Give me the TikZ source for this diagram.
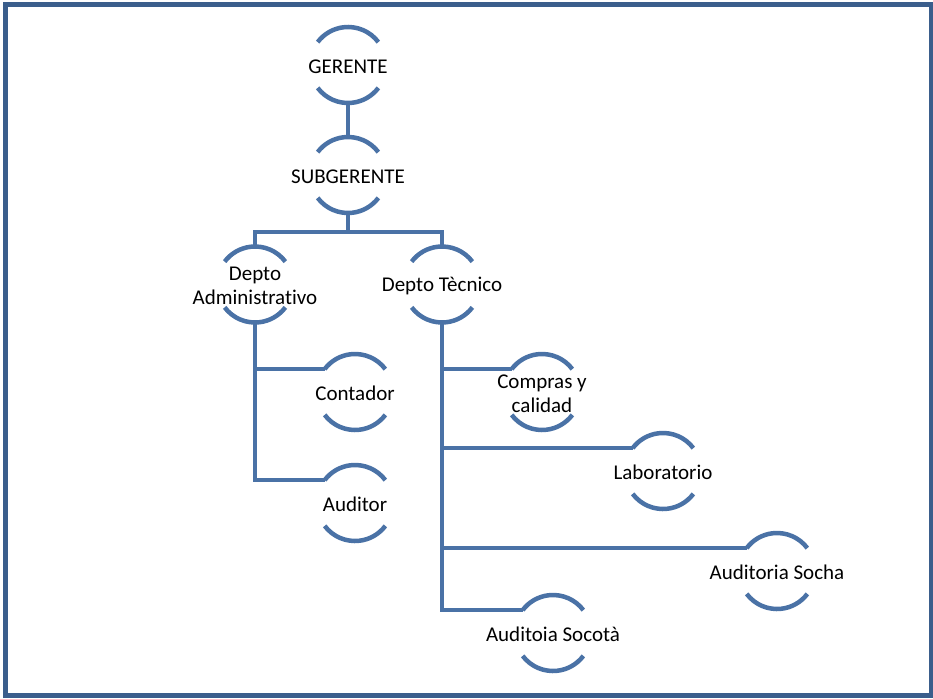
\documentclass[tikz,border=0pt]{standalone}
\usepackage{fontspec}
\setmainfont[Ligatures=NoCommon]{Carlito}
\definecolor{arcblue}{HTML}{4A72A6}
\definecolor{frameblue}{HTML}{3B5E8C}

% One organisational unit: a label between two arcs of a circle,
% with named points for attaching connectors.
\newcommand\orgunit[4]{%
  \coordinate (#1c) at (#2,-#3);
  \node[unit] (#1) at (#1c) {#4};
  \draw[arcline] ([shift={(37:38)}]#1c) arc[start angle=37,end angle=143,radius=38];
  \draw[arcline] ([shift={(-143:38)}]#1c) arc[start angle=-143,end angle=-37,radius=38];
  \coordinate (#1-t) at ([shift={(90:38)}]#1c);
  \coordinate (#1-b) at ([shift={(-90:38)}]#1c);
  \coordinate (#1-l) at ([shift={(143:38)}]#1c);
}

\begin{document}
\begin{tikzpicture}[x=1pt,y=1pt,
  unit/.style={font=\fontsize{21}{24}\selectfont, align=center, inner sep=0pt, yshift=-1.5pt},
  arcline/.style={draw=arcblue, line width=4.5pt},
  link/.style={draw=arcblue, line width=4.5pt},
  frame/.style={draw=frameblue, line width=5pt}]
\useasboundingbox (0,0) rectangle (933,-698);
\draw[frame] (5.3,-4.2) rectangle (931,-695.5);

\orgunit{ger}{348}{65}{GERENTE}
\orgunit{sub}{348}{175}{SUBGERENTE}
\orgunit{adm}{255}{284.5}{Depto\\Administrativo}
\orgunit{tec}{442}{284.5}{Depto Tècnico}
\orgunit{con}{355}{392}{Contador}
\orgunit{aud}{355}{503}{Auditor}
\orgunit{com}{542}{392}{Compras y\\calidad}
\orgunit{lab}{663}{471}{Laboratorio}
\orgunit{soc}{777}{571}{Auditoria Socha}
\orgunit{sco}{553}{633}{Auditoia Socotà}

\coordinate (split) at (348,-232);

\draw[link] (ger-b) -- (sub-t);
\draw[link] (sub-b) -- (split);
\draw[link] (adm-t) |- (split) -| (tec-t);

\draw[link] (adm-b) |- (con-l);
\draw[link] (adm-b) |- (aud-l);

\draw[link] (tec-b) |- (com-l);
\draw[link] (tec-b) |- (lab-l);
\draw[link] (tec-b) |- (soc-l);
\draw[link] (tec-b) |- (sco-l);
\end{tikzpicture}
\end{document}
